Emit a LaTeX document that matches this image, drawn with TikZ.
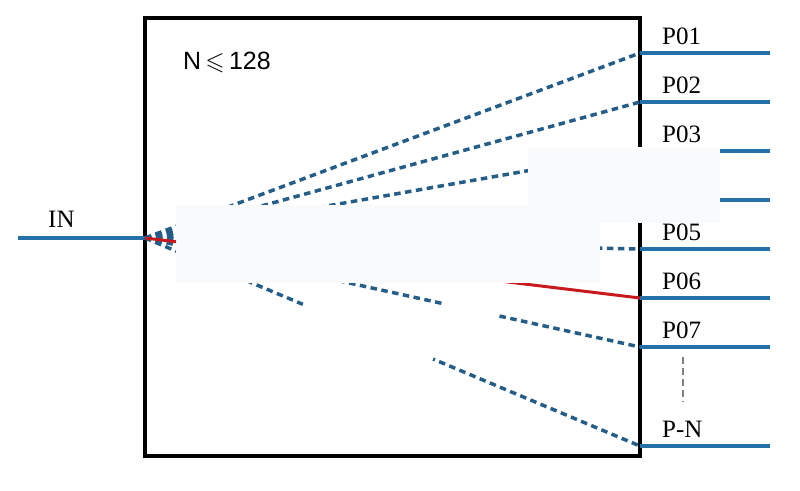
\documentclass[tikz,border=0pt]{standalone}
\usepackage{amssymb}
\usepackage{fontspec}
\setmainfont{Liberation Serif}
\newfontfamily\arialfont{Liberation Sans}
\usetikzlibrary{calc}
\definecolor{portblue}{HTML}{2470A8}
\definecolor{linkblue}{HTML}{245E88}
\definecolor{linkred}{HTML}{C81A1E}
\definecolor{patchgray}{HTML}{F8FAFC}

\begin{document}
\begin{tikzpicture}[x=1pt, y=-1pt,
    port/.style={line width=3.3pt, draw=portblue},
    link/.style={line width=3.5pt, draw=linkblue, dash pattern=on 6.5pt off 4.5pt},
    lbl/.style={anchor=base west, inner sep=0pt, font=\fontsize{25}{25}\selectfont}]
    \useasboundingbox (0,0) rectangle (800,490);
    \draw[line width=3.2pt] (145,18) rectangle (640,456);
    \coordinate (in) at (145,238);
    \coordinate (inL) at (18,238);
    \draw[port] (inL) -- (in);
    \node[lbl] (inlab) at (48,227) {IN};
    \node[lbl, font=\arialfont\fontsize{25}{25}\selectfont] (nmax) at (183,69) {N\,$\leqslant$\,128};
    % output ports
    \foreach \i/\y in {1/53,2/102,3/151,4/200,5/249,6/298,7/347,8/446}{
        \coordinate (p\i) at (640,\y);
        \coordinate (q\i) at (770,\y);
        \draw[port] (p\i) -- (q\i);
    }
    \foreach \i in {1,2,3,4,5,7,8} \draw[link] (in) -- (p\i);
    \draw[line width=3pt, draw=linkred] (in) -- (p6);
    \foreach \i/\t in {1/P01,2/P02,3/P03,5/P05,6/P06,7/P07,8/P-N}
        \node[lbl] (l\i) at ($(p\i)+(22,-9)$) {\t};
    \draw[gray, line width=1.2pt, dash pattern=on 7pt off 4pt] ($(p7)+(43,10)$) -- ($(p8)+(43,-44)$);
    % masked parts
    \fill[patchgray] (176,205) rectangle (600,283);
    \fill[patchgray] (528,147) rectangle (720,223);
    \draw[white, line width=10pt] (303,304.4) -- (433,359);
    \draw[white, line width=10pt] (445,304.1) -- (497,315.5);
\end{tikzpicture}
\end{document}
